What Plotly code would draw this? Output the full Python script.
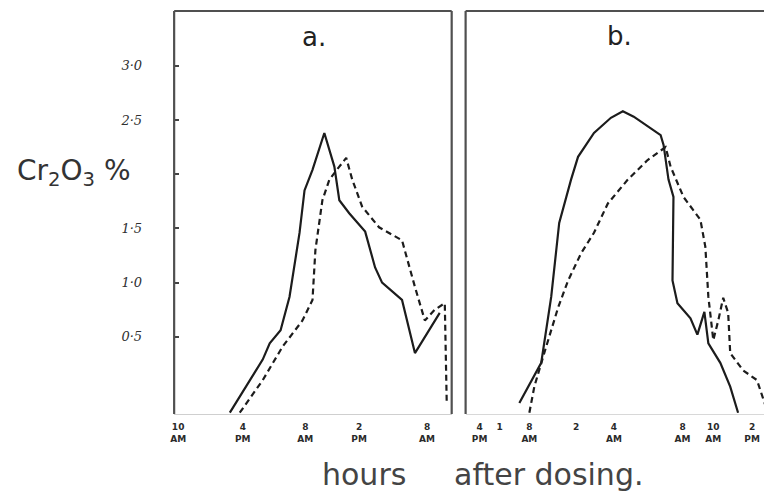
import plotly.graph_objects as go

# ---------------- data ----------------
# panel a  (x in hours from 10 AM, y = Cr2O3 %)
a_solid_x = [4.8, 6.28, 7.85, 8.5, 9.51, 10.34, 11.27, 11.73, 12.47, 13.57, 14.5, 14.96,
             15.88, 17.36, 18.28, 18.93, 20.78, 21.98, 24.28]
a_solid_y = [-0.2, 0.04, 0.29, 0.44, 0.56, 0.87, 1.46, 1.85, 2.04, 2.38, 2.07, 1.76,
             1.64, 1.47, 1.14, 1.0, 0.84, 0.35, 0.72]
a_dash_x = [5.72, 7.85, 9.7, 11.54, 12.47, 12.74, 13.39, 14.04, 14.96, 15.6, 16.16, 17.08,
            18.65, 20.78, 21.98, 22.9, 23.82, 24.75, 24.93]
a_dash_y = [-0.2, 0.10, 0.41, 0.65, 0.84, 1.30, 1.76, 1.95, 2.07, 2.15, 1.95, 1.70,
            1.51, 1.39, 0.96, 0.65, 0.75, 0.81, -0.11]

# panel b  (x in hours from 4 PM)
b_solid_x = [3.69, 4.52, 5.72, 6.65, 7.39, 8.49, 9.14, 10.62, 12.19, 13.3, 14.31, 16.81,
             17.08, 17.54, 18.0, 17.91, 18.37, 19.58, 20.22, 20.87, 21.24, 22.35, 23.27, 24.0]
b_solid_y = [-0.11, 0.04, 0.26, 0.87, 1.55, 1.95, 2.16, 2.38, 2.52, 2.58, 2.53, 2.36,
             2.27, 1.95, 1.79, 1.02, 0.81, 0.67, 0.52, 0.73, 0.44, 0.26, 0.04, -0.2]
b_dash_x = [4.62, 5.08, 6.0, 7.29, 8.22, 9.42, 10.62, 11.91, 13.76, 15.6, 17.27, 17.73,
            18.93, 20.5, 20.96, 21.24, 21.7, 22.16, 22.62, 23.08, 23.27, 24.47, 25.76, 26.69]
b_dash_y = [-0.2, 0.04, 0.35, 0.77, 1.02, 1.27, 1.46, 1.73, 1.95, 2.13, 2.25, 2.07,
            1.79, 1.58, 1.33, 0.87, 0.47, 0.65, 0.86, 0.72, 0.35, 0.19, 0.10, -0.18]

# tick labels
y_tickvals = [0.5, 1.0, 1.5, 2.0, 2.5, 3.0]
y_ticktext = ["0·5", "1·0", "1·5", "", "2·5", "3·0"]
a_tickvals = [0, 6.0, 11.8, 16.8, 23.1]
a_ticktext = ["10<br>AM", "4<br>PM", "8<br>AM", "2<br>PM", "8<br>AM"]
b_tickvals = [0, 1.85, 4.62, 8.96, 12.47, 18.84, 21.7, 25.3]
b_ticktext = ["4<br>PM", "1", "8<br>AM", "2", "4<br>AM", "8<br>AM", "10<br>AM", "2<br>PM"]

# ---------------- figure ----------------
LINE = "#1c1c1c"
FRAME = "#505050"

fig = go.Figure()
fig.add_trace(go.Scatter(x=a_solid_x, y=a_solid_y, mode="lines",
                         line=dict(color=LINE, width=2.2), xaxis="x", yaxis="y"))
fig.add_trace(go.Scatter(x=a_dash_x, y=a_dash_y, mode="lines",
                         line=dict(color=LINE, width=2.2, dash="6px,4px"), xaxis="x", yaxis="y"))
fig.add_trace(go.Scatter(x=b_solid_x, y=b_solid_y, mode="lines",
                         line=dict(color=LINE, width=2.2), xaxis="x2", yaxis="y2"))
fig.add_trace(go.Scatter(x=b_dash_x, y=b_dash_y, mode="lines",
                         line=dict(color=LINE, width=2.2, dash="6px,4px"), xaxis="x2", yaxis="y2"))

# the page body has an 8px margin, so the figure is placed 8px in from the corner
OFF = 8
W, H = 772 - OFF, 492 - OFF


def fx(px):
    return (px - OFF) / W


def fy(py):
    return 1 - (py - OFF) / H


ydom = [fy(414), fy(11)]
yrange = [-0.212, 3.505]

tickfont_x = dict(family="DejaVu Sans", size=9, color="#2a2a2a", weight="bold")

fig.update_layout(
    width=W, height=H,
    margin=dict(l=0, r=0, t=0, b=0),
    paper_bgcolor="white", plot_bgcolor="white",
    showlegend=False,
    xaxis=dict(domain=[fx(171), fx(450)], range=[-0.37, 25.39],
               tickmode="array", tickvals=a_tickvals, ticktext=a_ticktext,
               tickfont=tickfont_x, ticks="", showgrid=False, zeroline=False,
               showline=True, linecolor="#cfcfcf", linewidth=1, ticklabelstandoff=4),
    xaxis2=dict(domain=[fx(464), 1.0], range=[-1.3, 27.15], anchor="y2",
                tickmode="array", tickvals=b_tickvals, ticktext=b_ticktext,
                tickfont=tickfont_x, ticks="", showgrid=False, zeroline=False,
                showline=True, linecolor="#d8d8d8", linewidth=1, ticklabelstandoff=4),
    yaxis=dict(domain=ydom, range=yrange, tickmode="array",
               tickvals=y_tickvals, ticktext=y_ticktext,
               tickfont=dict(family="DejaVu Serif", size=13, color="#303030", style="italic"),
               ticks="inside", ticklen=5, tickwidth=1.5, tickcolor="#444",
               ticklabelstandoff=31,
               showgrid=False, zeroline=False, showline=False),
    yaxis2=dict(domain=ydom, range=yrange, anchor="x2", showticklabels=False,
                ticks="", showgrid=False, zeroline=False, showline=False),
)

# frame lines
frame = [
    ("x domain", "y domain", 0, 0, 0, 1),   # a left
    ("x domain", "y domain", 0, 1, 1, 1),   # a top
    ("x domain", "y domain", 1, 0, 1, 1),   # a right
    ("x2 domain", "y2 domain", 0, 0, 0, 1),  # b left
    ("x2 domain", "y2 domain", 0, 1, 1, 1),  # b top
]
for xr, yr, x0, y0, x1, y1 in frame:
    fig.add_shape(type="line", xref=xr, yref=yr, x0=x0, y0=y0, x1=x1, y1=y1,
                  line=dict(color=FRAME, width=2.2))


def label(text, px, py, size, color="#222"):
    fig.add_annotation(text=text, xref="paper", yref="paper", x=fx(px), y=fy(py),
                       xanchor="center", yanchor="middle", showarrow=False,
                       font=dict(family="DejaVu Sans", size=size, color=color))


label("a.", 312, 37, 26)
label("b.", 619, 36, 26)
label("Cr<sub>2</sub>O<sub>3</sub> %", 70, 172, 28, "#333")
label("hours", 362, 474, 30, "#444")
label("after dosing.", 547, 474, 30, "#444")

fig.write_html("out.html")
